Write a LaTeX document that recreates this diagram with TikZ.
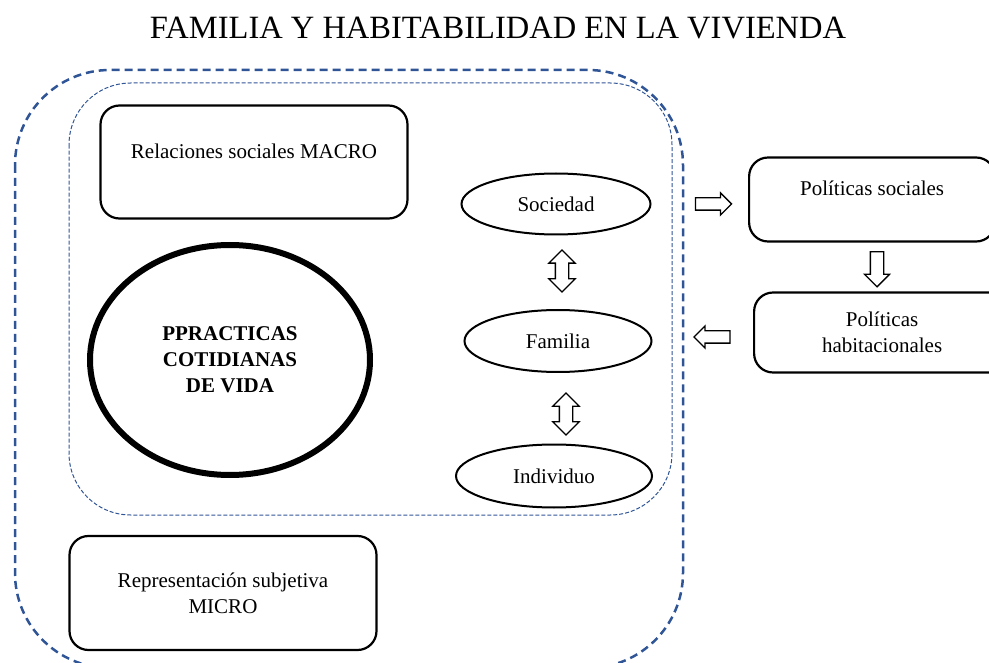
\documentclass[tikz,border=0pt]{standalone}
\usepackage{fontspec}
\setmainfont{Liberation Serif}
\usetikzlibrary{shapes.geometric,shapes.arrows}
\definecolor{azulmarco}{HTML}{2F5597}
\tikzset{
	caja/.style={draw,line width=2.2,rounded corners=19,align=center,font=\fontsize{21}{26}\selectfont},
	elipse/.style={draw,ellipse,line width=2,inner sep=0,font=\fontsize{21}{26}\selectfont},
	flecha/.style={draw,single arrow,line width=1.3,inner sep=5.5,single arrow head extend=5,minimum height=36},
	dobleflecha/.style={draw,double arrow,line width=1.3,inner sep=6,double arrow head extend=6.5,minimum height=42,shape border rotate=90},
}
\begin{document}
\begin{tikzpicture}[x=1pt,y=-1pt]
	\useasboundingbox (0,0) rectangle (989,663);
	\def\radio{95}
	% marcos punteados
	\draw[azulmarco,line width=2.5,dash pattern=on 8 off 5,rounded corners=\radio] (15,70) rectangle (683,668);
	\draw[azulmarco,line width=1,dash pattern=on 4 off 2,rounded corners=.65*\radio] (69,83) rectangle (672,515);
	
	\node[anchor=base,font=\fontsize{32.5}{38}\selectfont] (titulo) at (498,39) {FAMILIA Y HABITABILIDAD EN LA VIVIENDA};
	
	\node[caja,minimum width=307,minimum height=113] (macro) at (254,162) {Relaciones sociales MACRO\\[-12pt] \strut};
	\node[caja,minimum width=307,minimum height=114] (micro) at (223,593) {Representación subjetiva\\MICRO};
	\node[draw,ellipse,line width=6,minimum width=280,minimum height=230,align=center,
		font=\bfseries\fontsize{21}{26}\selectfont] (practicas) at (230,360) {PPRACTICAS\\COTIDIANAS\\DE VIDA};
	
	\node[elipse,minimum width=189,minimum height=61] (sociedad) at (556,204) {Sociedad};
	\node[elipse,minimum width=187,minimum height=62] (familia) at (558,341) {Familia};
	\node[elipse,minimum width=196,minimum height=63] (individuo) at (554,476) {Individuo};
	\node[dobleflecha] (sf) at (562,271) {};
	\node[dobleflecha] (fi) at (566,414) {};
	
	\node[caja,minimum width=246,minimum height=84,anchor=west] (psociales) at (748,199.5) {Políticas sociales\\[-12pt] \strut};
	\node[caja,minimum width=256,minimum height=80,anchor=west] (phabit) at (753,332.5) {Políticas\\habitacionales};
	\node[flecha] (haciaps) at (710.5,204) {};
	\node[flecha,shape border rotate=270,inner sep=6,single arrow head extend=6,minimum height=35] (haciaph) at (877,266) {};
	\node[flecha,shape border rotate=180] (desdeph) at (715,337) {};
\end{tikzpicture}
\end{document}
